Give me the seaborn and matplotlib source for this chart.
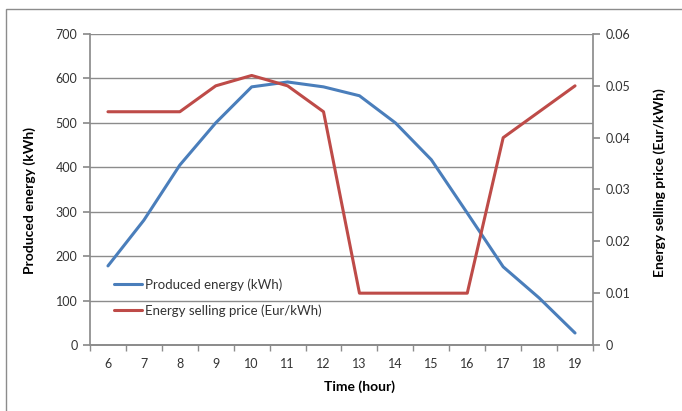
import matplotlib
matplotlib.use("Agg")
import matplotlib.pyplot as plt
import seaborn as sns
import pandas as pd
import numpy as np
from matplotlib.lines import Line2D
from matplotlib.patches import Rectangle

hours = ["6", "7", "8", "9", "10", "11", "12", "13", "14", "15", "16", "17", "18", "19"]
energy = [178, 281, 405, 500, 581, 592, 581, 561, 500, 417, 297, 176, 106, 27]
price = [0.045, 0.045, 0.045, 0.050, 0.052, 0.050, 0.045, 0.010, 0.010, 0.010, 0.010, 0.040, 0.045, 0.050]
energy_ticks = [0, 100, 200, 300, 400, 500, 600, 700]
price_ticks = [0, 0.01, 0.02, 0.03, 0.04, 0.05, 0.06]
price_tick_labels = ["0", "0.01", "0.02", "0.03", "0.04", "0.05", "0.06"]

df = pd.DataFrame({"hour": hours, "energy": energy, "price": price})

sns.set_theme(style="white")
plt.rcParams["font.family"] = ["Lato", "DejaVu Sans"]

BLUE = "#4A7EBB"
RED = "#BE4B48"
GRID = "#8C8C8C"
TXT = "#333333"

fig = plt.figure(figsize=(6.82, 4.11), dpi=100)
ax = fig.add_axes([90 / 682, 1 - 345 / 411, (593 - 90) / 682, (345 - 34) / 411])
ax2 = ax.twinx()

sns.lineplot(data=df, x="hour", y="energy", ax=ax, color=BLUE, linewidth=2.2, sort=False)
sns.lineplot(data=df, x="hour", y="price", ax=ax2, color=RED, linewidth=2.2, sort=False)

n = len(hours)
ax.set_xlim(-0.5, n - 0.5)
ax.set_ylim(0, 700)
ax2.set_ylim(0, 0.06)
ax.set_yticks(energy_ticks)
ax.set_yticklabels([str(v) for v in energy_ticks], color=TXT, fontsize=9)
ax2.set_yticks(price_ticks)
ax2.set_yticklabels(price_tick_labels, color=TXT, fontsize=9)
ax.set_xticks(range(n))
ax.set_xticklabels(hours, color=TXT, fontsize=9)
ax.set_xticks(np.arange(-0.5, n, 1.0), minor=True)
ax.tick_params(axis="x", which="major", length=0, pad=9)
ax.tick_params(axis="x", which="minor", length=4, color=GRID, direction="out", bottom=True)
ax.tick_params(axis="y", length=5, color=GRID, direction="out", left=True, pad=4)
ax2.tick_params(axis="y", length=5, color=GRID, direction="out", right=True, pad=4)

ax.grid(axis="y", color=GRID, linewidth=1.0)
ax.set_axisbelow(True)
for a in (ax, ax2):
    a.spines["top"].set_visible(False)
    a.spines["left"].set_color(GRID)
    a.spines["right"].set_color(GRID)
    a.spines["bottom"].set_color(GRID)
ax.spines["right"].set_visible(False)
ax2.spines["left"].set_visible(False)

ax.set_xlabel("Time (hour)", fontsize=10, fontweight="bold", color="black")
ax.set_ylabel("Produced energy (kWh)", fontsize=10, fontweight="bold", color="black")
ax2.set_ylabel("Energy selling price (Eur/kWh)", fontsize=10, fontweight="bold", color="black")
ax.xaxis.set_label_coords((360 - 90) / 503, (345 - 380) / 311)
ax.yaxis.set_label_coords((36 - 90) / 503, (345 - 201) / 311)
ax2.yaxis.set_label_coords((653 - 90) / 503, (345 - 183) / 311)

handles = [Line2D([], [], color=BLUE, linewidth=2.2), Line2D([], [], color=RED, linewidth=2.2)]
labels = ["Produced energy (kWh)", "Energy selling price (Eur/kWh)"]
leg = ax2.legend(handles, labels, loc="upper left", bbox_to_anchor=((114 - 90) / 503, (345 - 278) / 311),
                 frameon=False, fontsize=9.5, handlelength=2.1, handletextpad=0.25, labelspacing=1.05,
                 borderaxespad=0, borderpad=0)
for t in leg.get_texts():
    t.set_color(TXT)

fig.patches.append(Rectangle((6 / 682, -0.1), 1.2, 1.1 - 9 / 411, transform=fig.transFigure,
                             fill=False, edgecolor="#8C8C8C", linewidth=1.0))

fig.savefig("out.png", dpi=100)
